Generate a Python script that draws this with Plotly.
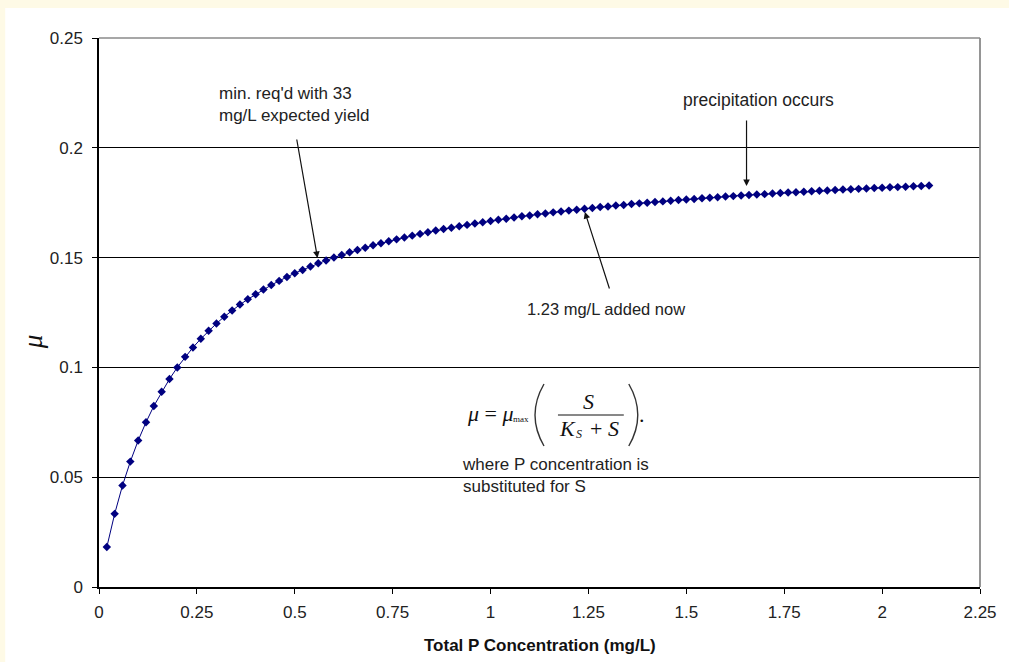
import plotly.graph_objects as go

# Data
p_conc = [0.02, 0.04, 0.06, 0.08, 0.10, 0.12, 0.14, 0.16, 0.18, 0.20,
          0.22, 0.24, 0.26, 0.28, 0.30, 0.32, 0.34, 0.36, 0.38, 0.40,
          0.42, 0.44, 0.46, 0.48, 0.50, 0.52, 0.54, 0.56, 0.58, 0.60,
          0.62, 0.64, 0.66, 0.68, 0.70, 0.72, 0.74, 0.76, 0.78, 0.80,
          0.82, 0.84, 0.86, 0.88, 0.90, 0.92, 0.94, 0.96, 0.98, 1.00,
          1.02, 1.04, 1.06, 1.08, 1.10, 1.12, 1.14, 1.16, 1.18, 1.20,
          1.22, 1.24, 1.26, 1.28, 1.30, 1.32, 1.34, 1.36, 1.38, 1.40,
          1.42, 1.44, 1.46, 1.48, 1.50, 1.52, 1.54, 1.56, 1.58, 1.60,
          1.62, 1.64, 1.66, 1.68, 1.70, 1.72, 1.74, 1.76, 1.78, 1.80,
          1.82, 1.84, 1.86, 1.88, 1.90, 1.92, 1.94, 1.96, 1.98, 2.00,
          2.02, 2.04, 2.06, 2.08, 2.10, 2.12]
mu_vals = [0.0182, 0.0333, 0.0462, 0.0571, 0.0667, 0.0750, 0.0824, 0.0889, 0.0947, 0.1000,
           0.1048, 0.1091, 0.1130, 0.1167, 0.1200, 0.1231, 0.1259, 0.1286, 0.1310, 0.1333,
           0.1355, 0.1375, 0.1394, 0.1412, 0.1429, 0.1444, 0.1459, 0.1474, 0.1487, 0.1500,
           0.1512, 0.1524, 0.1535, 0.1545, 0.1556, 0.1565, 0.1574, 0.1583, 0.1592, 0.1600,
           0.1608, 0.1615, 0.1623, 0.1630, 0.1636, 0.1643, 0.1649, 0.1655, 0.1661, 0.1667,
           0.1672, 0.1677, 0.1683, 0.1688, 0.1692, 0.1697, 0.1701, 0.1706, 0.1710, 0.1714,
           0.1718, 0.1722, 0.1726, 0.1730, 0.1733, 0.1737, 0.1740, 0.1744, 0.1747, 0.1750,
           0.1753, 0.1756, 0.1759, 0.1762, 0.1765, 0.1767, 0.1770, 0.1773, 0.1775, 0.1778,
           0.1780, 0.1783, 0.1785, 0.1787, 0.1789, 0.1792, 0.1794, 0.1796, 0.1798, 0.1800,
           0.1802, 0.1804, 0.1806, 0.1808, 0.1810, 0.1811, 0.1813, 0.1815, 0.1817, 0.1818,
           0.1820, 0.1821, 0.1823, 0.1825, 0.1826, 0.1828]

x_tickvals = [0, 0.25, 0.5, 0.75, 1, 1.25, 1.5, 1.75, 2, 2.25]
x_ticktext = ["0", "0.25", "0.5", "0.75", "1", "1.25", "1.5", "1.75", "2", "2.25"]
y_tickvals = [0, 0.05, 0.1, 0.15, 0.2, 0.25]
y_ticktext = ["0", "0.05", "0.1", "0.15", "0.2", "0.25"]

W, H = 1009, 662
ML, MR, MT, MB = 99, 27, 38, 75
PW, PH = W - ML - MR, H - MT - MB
CREAM = "#fefae6"


def px(x):
    return (x - ML) / PW


def py(y):
    return (H - MB - y) / PH


SANS = "Liberation Sans, Arial, sans-serif"
SERIF = "Liberation Serif, Times New Roman, serif"
TXT = "#222222"
FS = 17

fig = go.Figure()
fig.add_trace(go.Scatter(
    x=p_conc, y=mu_vals, mode="lines+markers",
    line=dict(color="#000080", width=1),
    marker=dict(symbol="diamond", size=6.5, color="#000080", line=dict(width=0)),
    showlegend=False, hoverinfo="x+y",
))

shapes = [
    # white chart area on cream page
    dict(type="rect", xref="paper", yref="paper", x0=px(5), x1=px(1012), y0=py(665), y1=py(8),
         fillcolor="white", line=dict(width=0), layer="below"),
    # grey top and right border
    dict(type="line", xref="paper", yref="paper", x0=0, x1=1, y0=1, y1=1,
         line=dict(color="#8a8a8a", width=1.5), layer="above"),
    dict(type="line", xref="paper", yref="paper", x0=1, x1=1, y0=0, y1=1,
         line=dict(color="#8a8a8a", width=1.8), layer="above"),
    # fraction bar
    dict(type="line", xref="paper", yref="paper", x0=px(559), x1=px(625), y0=py(415), y1=py(415),
         line=dict(color="#111111", width=1), layer="above"),
    # parentheses
    dict(type="path", xref="paper", yref="paper",
         path=f"M {px(545)},{py(384)} Q {px(527)},{py(415)} {px(545)},{py(446)}",
         line=dict(color="#333333", width=1.4), layer="above"),
    dict(type="path", xref="paper", yref="paper",
         path=f"M {px(630)},{py(384)} Q {px(648)},{py(415)} {px(630)},{py(446)}",
         line=dict(color="#333333", width=1.4), layer="above"),
]

ann = []


def text(t, x, y, size=FS, xanchor="center", align="center", family=SANS, color=TXT, **kw):
    ann.append(dict(text=t, x=px(x), y=py(y), xref="paper", yref="paper", showarrow=False,
                    xanchor=xanchor, yanchor="middle", align=align,
                    font=dict(family=family, size=size, color=color), **kw))


def arrow(hx, hy, tx, ty):
    ann.append(dict(text="", x=px(hx), y=py(hy), xref="paper", yref="paper", showarrow=True,
                    ax=tx - hx, ay=ty - hy, arrowhead=2, arrowsize=1.1, arrowwidth=1.2,
                    arrowcolor="#111111", standoff=0, startstandoff=0))


text("min. req'd with 33<br>mg/L expected yield", 217, 104, xanchor="left", align="left")
text("precipitation occurs", 760, 100, size=17.5)
text("1.23 mg/L added now", 607, 309, size=16.5)
arrow(318, 258, 297, 138)
arrow(748, 186, 748, 119)
arrow(586, 212, 611, 290)

# equation
text("<i>μ</i> = <i>μ</i>", 491, 413, size=22, family=SERIF, color="#111111")
text("max", 522, 419, size=9, family=SERIF, color="#111111")
text("<i>S</i>", 590, 401, size=22, family=SERIF, color="#111111")
text("<i>K</i>", 569, 428, size=22, family=SERIF, color="#111111")
text("<i>S</i>", 580, 434, size=12, family=SERIF, color="#111111")
text("+ <i>S</i>", 606, 428, size=22, family=SERIF, color="#111111")
text(".", 643, 414, size=22, family=SERIF, color="#111111")
text("where P concentration is<br>substituted for S", 461, 475, xanchor="left", align="left")

# axis titles
text("<b>Total P Concentration (mg/L)</b>", 541, 645, size=FS, color="#111111")
text("<i>μ</i>", 33, 342, size=27, family=SERIF, color="#111111", textangle=-90)

fig.update_layout(
    width=W, height=H, autosize=False,
    margin=dict(l=ML, r=MR, t=MT, b=MB, pad=0),
    paper_bgcolor=CREAM, plot_bgcolor="white",
    shapes=shapes, annotations=ann,
    xaxis=dict(range=[0, 2.25], tickvals=x_tickvals, ticktext=x_ticktext,
               showgrid=False, zeroline=False, showline=True, linecolor="black", linewidth=1.5,
               ticks="outside", ticklen=5, tickcolor="black", tickwidth=1.2,
               tickfont=dict(family=SANS, size=FS, color=TXT), ticklabelstandoff=4),
    yaxis=dict(range=[0, 0.25], tickvals=y_tickvals, ticktext=y_ticktext,
               showgrid=True, gridcolor="black", gridwidth=1, zeroline=False,
               showline=True, linecolor="black", linewidth=1.5,
               ticks="outside", ticklen=5, tickcolor="black", tickwidth=1.2,
               tickfont=dict(family=SANS, size=FS, color=TXT), ticklabelstandoff=6),
)

fig.write_html(
    "out.html",
    config={"displayModeBar": False},
    post_script="document.body.style.margin='0px';document.body.style.overflow='hidden';"
                "document.body.style.background='" + CREAM + "';",
)
